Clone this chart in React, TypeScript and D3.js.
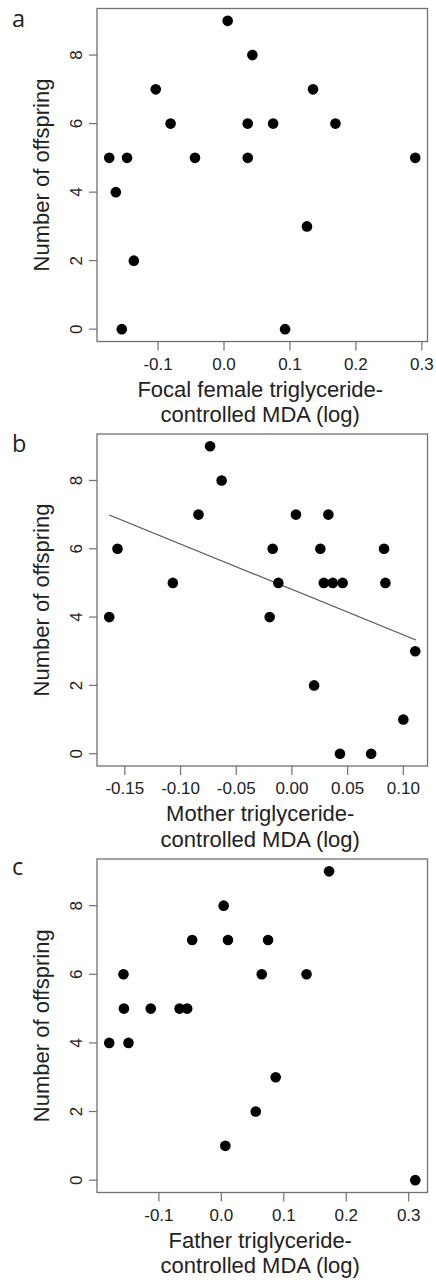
import React from "react";
import * as d3 from "d3";

// Panel a: focal female
const aX = [-0.174, -0.164, -0.147, -0.1035, -0.081, -0.044, 0.0056, 0.043, 0.036, 0.036, 0.0745, 0.135, 0.169, 0.29, -0.1367, -0.155, 0.1258, 0.0926];
const aY = [5, 4, 5, 7, 6, 5, 9, 8, 6, 5, 6, 7, 6, 5, 2, 0, 3, 0];
const aTicks = [-0.1, 0.0, 0.1, 0.2, 0.3];
const aTickLabels = ["-0.1", "0.0", "0.1", "0.2", "0.3"];
const aLabel = ["Focal female triglyceride-", "controlled MDA (log)"];

// Panel b: mother
const bX = [-0.164, -0.1566, -0.1069, -0.0839, -0.0735, -0.0631, -0.02, -0.0173, -0.0122, 0.0036, 0.0255, 0.0327, 0.0286, 0.0366, 0.0455, 0.0827, 0.0839, 0.1107, 0.0199, 0.1, 0.0431, 0.0711];
const bY = [4, 6, 5, 7, 9, 8, 4, 6, 5, 7, 6, 7, 5, 5, 5, 6, 5, 3, 2, 1, 0, 0];
const bTicks = [-0.15, -0.1, -0.05, 0.0, 0.05, 0.1];
const bTickLabels = ["-0.15", "-0.10", "-0.05", "0.00", "0.05", "0.10"];
const bLabel = ["Mother triglyceride-", "controlled MDA (log)"];
const bLineX = [-0.164, 0.1113];
const bLineY = [6.99, 3.33];

// Panel c: father
const cX = [-0.1795, -0.1487, -0.1567, -0.156, -0.113, -0.0669, -0.0547, -0.0467, 0.0037, 0.0106, 0.0748, 0.0647, 0.1364, 0.1725, 0.087, 0.0551, 0.0064, 0.3105];
const cY = [4, 4, 6, 5, 5, 5, 5, 7, 8, 7, 7, 6, 6, 9, 3, 2, 1, 0];
const cTicks = [-0.1, 0.0, 0.1, 0.2, 0.3];
const cTickLabels = ["-0.1", "0.0", "0.1", "0.2", "0.3"];
const cLabel = ["Father triglyceride-", "controlled MDA (log)"];

const yTicks = [0, 2, 4, 6, 8];
const yLabel = "Number of offspring";
const letters = ["a", "b", "c"];

const FONT = "'Liberation Sans', Arial, sans-serif";
const AXIS = "#707070";
const TEXT = "#222";

type PanelProps = {
  letter: string;
  xs: number[];
  ys: number[];
  ticks: number[];
  tickLabels: string[];
  label: string[];
  top: number;
  bottom: number;
  letterY: number;
  lineX?: number[];
  lineY?: number[];
};

function Panel(p: PanelProps) {
  const left = 97;
  const right = 427.5;
  const [mn, mx] = d3.extent(p.xs) as [number, number];
  const pad = (mx - mn) * 0.04;
  const x = d3.scaleLinear().domain([mn - pad, mx + pad]).range([left, right]);
  const y = d3.scaleLinear().domain([-0.36, 9.36]).range([p.bottom, p.top]);
  const line = d3.line<number>().x((d) => x(d)).y((_, i) => y(p.lineY![i]));
  return (
    <g>
      <text x={12} y={p.letterY} fontFamily="'Open Sans', sans-serif" fontSize={23.5} fill={TEXT}>
        {p.letter}
      </text>
      <rect x={left} y={p.top} width={right - left} height={p.bottom - p.top} fill="none" stroke={AXIS} strokeWidth={1.3} />
      {yTicks.map((t) => (
        <g key={"y" + t}>
          <line x1={left - 8} x2={left} y1={y(t)} y2={y(t)} stroke={AXIS} strokeWidth={1.2} />
          <text
            transform={`translate(${82},${y(t)}) rotate(-90)`}
            textAnchor="middle"
            fontFamily={FONT}
            fontSize={17}
            fill={TEXT}
          >
            {t}
          </text>
        </g>
      ))}
      <text
        transform={`translate(${49},${(p.top + p.bottom) / 2}) rotate(-90)`}
        textAnchor="middle"
        fontFamily={FONT}
        fontSize={22}
        fill={TEXT}
      >
        {yLabel}
      </text>
      {p.ticks.map((t, i) => (
        <g key={"x" + i}>
          <line x1={x(t)} x2={x(t)} y1={p.bottom} y2={p.bottom + 9} stroke={AXIS} strokeWidth={1.2} />
          <text x={x(t)} y={p.bottom + 28} textAnchor="middle" fontFamily={FONT} fontSize={17} fill={TEXT}>
            {p.tickLabels[i]}
          </text>
        </g>
      ))}
      {p.label.map((l, i) => (
        <text key={"l" + i} x={(left + right) / 2 - 2} y={p.bottom + 55 + i * 25.5} textAnchor="middle" fontFamily={FONT} fontSize={22} fill={TEXT}>
          {l}
        </text>
      ))}
      {p.lineX && p.lineY && (
        <path d={line(p.lineX) || ""} fill="none" stroke="#555" strokeWidth={1.2} />
      )}
      {p.xs.map((v, i) => (
        <circle key={"p" + i} cx={x(v)} cy={y(p.ys[i])} r={5.3} fill="#000" />
      ))}
    </g>
  );
}

export default function App() {
  return (
    <svg
      width={436}
      height={1280}
      style={{ position: "absolute", left: 0, top: 0, background: "#fff" }}
    >
      <rect width={436} height={1280} fill="#fff" />
      <Panel letter={letters[0]} xs={aX} ys={aY} ticks={aTicks} tickLabels={aTickLabels} label={aLabel} top={8.5} bottom={341.5} letterY={26.5} />
      <Panel letter={letters[1]} xs={bX} ys={bY} ticks={bTicks} tickLabels={bTickLabels} label={bLabel} top={434} bottom={766} letterY={452} lineX={bLineX} lineY={bLineY} />
      <Panel letter={letters[2]} xs={cX} ys={cY} ticks={cTicks} tickLabels={cTickLabels} label={cLabel} top={859} bottom={1192.5} letterY={875} />
    </svg>
  );
}
